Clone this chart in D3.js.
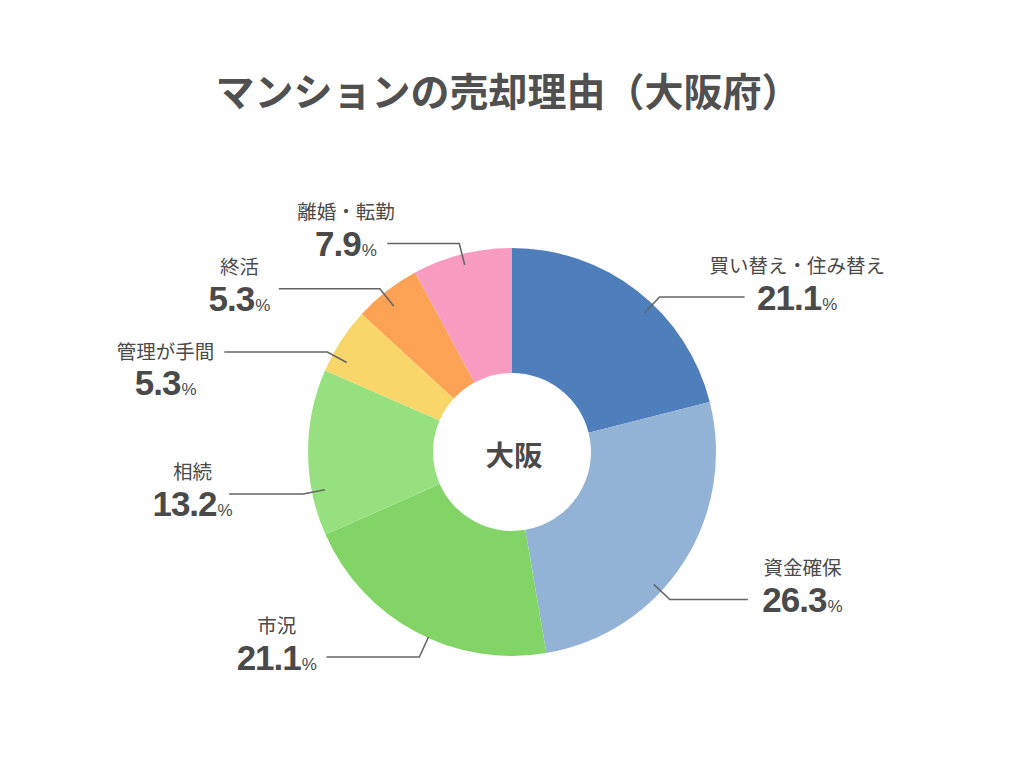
<!DOCTYPE html>
<html>
<head>
<meta charset="utf-8">
<script src="https://cdn.jsdelivr.net/npm/d3@7"></script>
<style>
  html, body { margin: 0; padding: 0; background: #fff; }
  svg text { font-family: "Noto Sans CJK JP", "Noto Sans", sans-serif; fill: #4a4a4a; }
  svg text.num { font-family: "Liberation Sans", Arial, sans-serif; }
</style>
</head>
<body>
<svg id="chart" width="1024" height="768"></svg>
<script>
  // data
  var categories = ['買い替え・住み替え', '資金確保', '市況', '相続', '管理が手間', '終活', '離婚・転勤'];
  var shares = [21.1, 26.3, 21.1, 13.2, 5.3, 5.3, 7.9];
  var colors = ['#4f7fbb', '#92b2d6', '#82d467', '#97e07f', '#f8d66a', '#fba254', '#f79bc0'];

  // label layout: angle nudge (deg), elbow radius, horizontal leader length,
  // text gap, number offset from leader, whether the name sits on the leader
  var labelLayout = [
    {nudge: 5.7, r: 214, len: 85, gap: 13, dy: 0, inline: false},
    {nudge: 10, r: 216, len: 78, gap: 15, dy: 0, inline: false},
    {nudge: -3.9, r: 225, len: 93, gap: 10, dy: 0, inline: false},
    {nudge: -11.2, r: 213, len: 74, gap: -3, dy: 9, inline: false},
    {nudge: -4.6, r: 210, len: 103, gap: 10, dy: 0, inline: true},
    {nudge: -1.1, r: 210, len: 101, gap: 9, dy: 10, inline: false},
    {nudge: 0, r: 215, len: 72, gap: 11, dy: 0, inline: false}
  ];

  var cx = 512;
  var cy = 452;
  var outerR = 204;
  var innerR = 79;

  var svg = d3.select('#chart');

  svg.append('text')
      .attr('x', 508)
      .attr('y', 106)
      .attr('text-anchor', 'middle')
      .attr('font-size', 39)
      .attr('font-weight', 700)
      .style('fill', '#505050')
      .text('マンションの売却理由（大阪府）');

  var g = svg.append('g').attr('transform', 'translate(' + cx + ',' + cy + ')');

  var rows = categories.map(function (c, i) {
    return {name: c, value: shares[i], color: colors[i], layout: labelLayout[i]};
  });

  var pie = d3.pie().sort(null).value(function (d) { return d.value; });
  var arc = d3.arc().innerRadius(innerR).outerRadius(outerR);
  var arcs = pie(rows);

  g.selectAll('path.slice')
      .data(arcs)
      .enter().append('path')
      .attr('class', 'slice')
      .attr('d', arc)
      .attr('fill', function (d) { return d.data.color; });

  g.append('text')
      .attr('x', 2)
      .attr('y', 14)
      .attr('text-anchor', 'middle')
      .attr('font-size', 28.5)
      .attr('font-weight', 700)
      .text('大阪');

  function polar(r, a) {
    return [r * Math.sin(a), -r * Math.cos(a)];
  }

  arcs.forEach(function (d) {
    var lay = d.data.layout;
    var a = (d.startAngle + d.endAngle) / 2 + lay.nudge * Math.PI / 180;
    var p0 = polar(lay.r - 22, a);
    var p1 = polar(lay.r, a);
    var sign = Math.sin(a) > 0 ? 1 : -1;
    var p2 = [p1[0] + sign * lay.len, p1[1]];

    g.append('polyline')
        .attr('points', [p0, p1, p2].map(function (p) { return p.join(','); }).join(' '))
        .attr('fill', 'none')
        .attr('stroke', '#666')
        .attr('stroke-width', 1.6);

    var name = g.append('text')
        .attr('font-size', 19.5)
        .attr('text-anchor', 'middle')
        .text(d.data.name);

    var num = g.append('text')
        .attr('class', 'num')
        .attr('text-anchor', 'middle')
        .attr('font-weight', 700);
    num.append('tspan')
        .attr('font-size', 35)
        .attr('letter-spacing', -1)
        .text(d.data.value.toFixed(1));
    num.append('tspan')
        .attr('font-size', 17)
        .attr('font-weight', 400)
        .attr('dx', 1)
        .text('%');

    var nameW = name.node().getComputedTextLength();
    var numW = num.node().getComputedTextLength();
    var anchorW = lay.inline ? nameW : numW;
    var centerX = p2[0] + sign * (lay.gap + anchorW / 2);
    var numCY, nameCY;

    if (lay.inline) {
      nameCY = p2[1];
      numCY = nameCY + 31;
    } else {
      numCY = p2[1] + lay.dy;
      nameCY = numCY - 32;
    }

    name.attr('x', centerX).attr('y', nameCY + 7.5);
    num.attr('x', centerX).attr('y', numCY + 12.5);
  });
</script>
</body>
</html>
